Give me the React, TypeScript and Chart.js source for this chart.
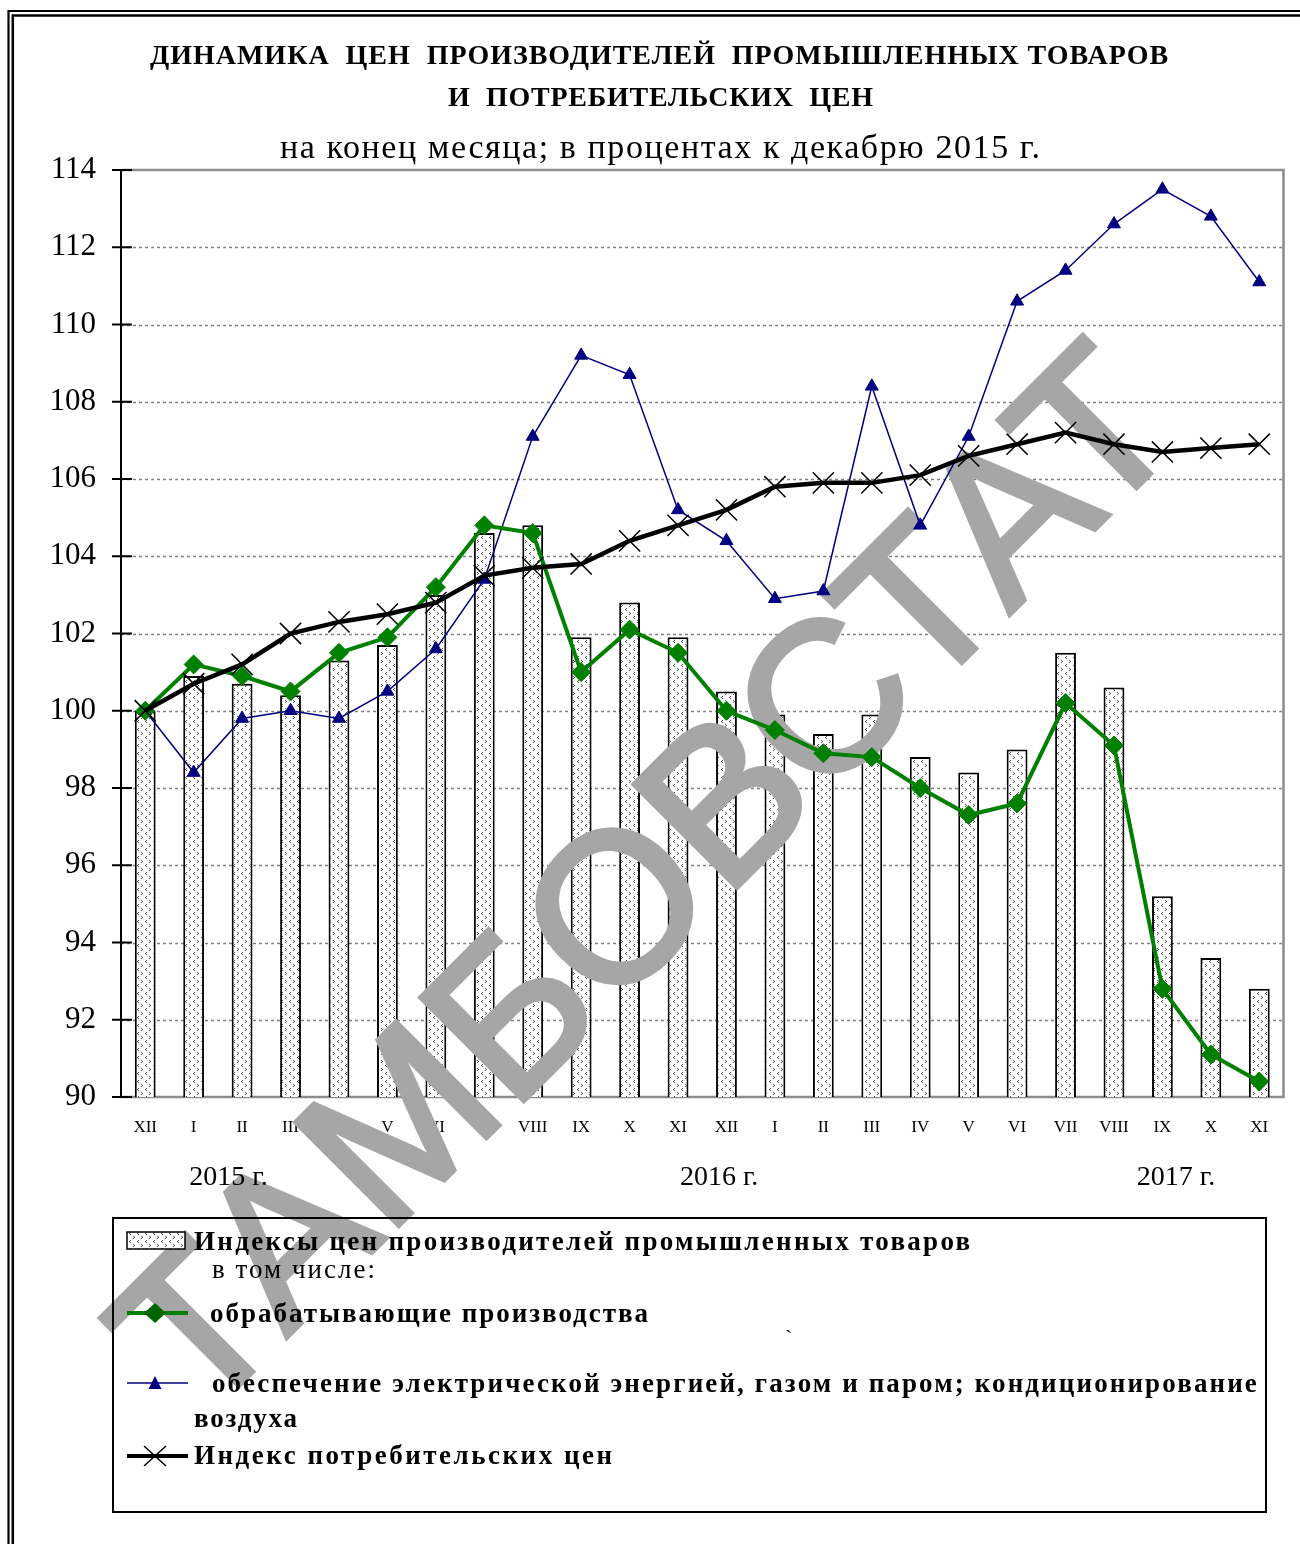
import React, { useEffect, useRef } from 'react';
import { Chart, registerables } from 'chart.js';

Chart.register(...registerables);

// ---------- data ----------
const months = ['XII', 'I', 'II', 'III', 'IV', 'V', 'VI', 'VII', 'VIII', 'IX', 'X', 'XI', 'XII', 'I', 'II', 'III', 'IV', 'V', 'VI', 'VII', 'VIII', 'IX', 'X', 'XI'];
const ppiAll = [100.0, 100.9, 100.7, 100.4, 101.3, 101.7, 103.0, 104.6, 104.8, 101.9, 102.8, 101.9, 100.5, 99.9, 99.4, 99.9, 98.8, 98.4, 99.0, 101.5, 100.6, 95.2, 93.6, 92.8];
const manufacturing = [100.0, 101.2, 100.9, 100.5, 101.5, 101.9, 103.2, 104.8, 104.6, 101.0, 102.1, 101.5, 100.0, 99.5, 98.9, 98.8, 98.0, 97.3, 97.6, 100.2, 99.1, 92.8, 91.1, 90.4];
const energy = [100.0, 98.4, 99.8, 100.0, 99.8, 100.5, 101.6, 103.4, 107.1, 109.2, 108.7, 105.2, 104.4, 102.9, 103.1, 108.4, 104.8, 107.1, 110.6, 111.4, 112.6, 113.5, 112.8, 111.1];
const cpi = [100.0, 100.7, 101.2, 102.0, 102.3, 102.5, 102.8, 103.5, 103.7, 103.8, 104.4, 104.8, 105.2, 105.8, 105.9, 105.9, 106.1, 106.6, 106.9, 107.2, 106.9, 106.7, 106.8, 106.9];
const yearLabels = ['2015 г.', '2016 г.', '2017 г.'];
const titleLines = ['ДИНАМИКА  ЦЕН  ПРОИЗВОДИТЕЛЕЙ  ПРОМЫШЛЕННЫХ ТОВАРОВ', 'И  ПОТРЕБИТЕЛЬСКИХ  ЦЕН'];
const subtitle = 'на конец месяца; в процентах к декабрю 2015 г.';
const legendLabels = [
  'Индексы цен производителей промышленных товаров',
  'в том числе:',
  'обрабатывающие производства',
  'обеспечение электрической энергией, газом и паром; кондиционирование',
  'воздуха',
  'Индекс потребительских цен',
];
const watermark = 'ТАМБОВСТАТ';

// ---------- layout ----------
const W = 1300;
const H = 1544;
const SERIF = '"Liberation Serif", "Times New Roman", serif';
const SANS = '"Liberation Sans", Arial, sans-serif';
const yearLabelPos = [1.72, 11.85, 21.28];
const GREEN = '#008000';
const NAVY = '#000080';

function makePattern(ctx: CanvasRenderingContext2D) {
  const c = document.createElement('canvas');
  c.width = 8;
  c.height = 8;
  const p = c.getContext('2d')!;
  p.fillStyle = '#ffffff';
  p.fillRect(0, 0, 8, 8);
  p.fillStyle = '#555555';
  p.fillRect(2, 0, 1, 1);
  p.fillRect(1, 1, 1, 1);
  p.fillRect(2, 2, 1, 1);
  p.fillRect(5, 4, 1, 1);
  p.fillRect(6, 5, 1, 1);
  p.fillRect(5, 6, 1, 1);
  return ctx.createPattern(c, 'repeat')!;
}

function fitText(ctx: any, text: string, x: number, y: number, width: number, font: string) {
  ctx.save();
  ctx.font = font;
  ctx.fillStyle = '#000';
  ctx.textAlign = 'left';
  ctx.textBaseline = 'alphabetic';
  ctx.letterSpacing = '0px';
  const w0 = ctx.measureText(text).width;
  const ls = text.length > 1 ? (width - w0) / (text.length - 1) : 0;
  ctx.letterSpacing = ls.toFixed(2) + 'px';
  ctx.fillText(text, x, y);
  ctx.restore();
}

export default function App() {
  const ref = useRef<HTMLCanvasElement>(null);

  useEffect(() => {
    document.body.style.margin = '0';
    const canvas = ref.current!;
    const ctx = canvas.getContext('2d')!;
    const pattern = makePattern(ctx);

    const decor = {
      id: 'decor',
      beforeDatasetsDraw(chart: any) {
        const c = chart.ctx;
        const a = chart.chartArea;
        const y = chart.scales.y;
        c.save();
        c.strokeStyle = '#808080';
        c.lineWidth = 1.5;
        c.setLineDash([3, 3]);
        y.ticks.forEach((t: any) => {
          if (t.value <= y.min || t.value >= y.max) return;
          const py = Math.round(y.getPixelForValue(t.value)) + 0.5;
          c.beginPath();
          c.moveTo(a.left, py);
          c.lineTo(a.right, py);
          c.stroke();
        });
        c.setLineDash([]);
        c.strokeStyle = '#8c8c8c';
        c.lineWidth = 2.5;
        c.beginPath();
        c.moveTo(a.left, a.top);
        c.lineTo(a.right, a.top);
        c.lineTo(a.right, a.bottom);
        c.lineTo(a.left, a.bottom);
        c.stroke();
        c.strokeStyle = '#000';
        c.lineWidth = 2;
        c.beginPath();
        c.moveTo(a.left, a.top);
        c.lineTo(a.left, a.bottom);
        c.stroke();
        y.ticks.forEach((t: any) => {
          const py = y.getPixelForValue(t.value);
          c.beginPath();
          c.moveTo(a.left - 9, py);
          c.lineTo(a.left + 11, py);
          c.stroke();
        });
        c.restore();
      },
      afterDatasetDraw(chart: any, args: any) {
        if (args.index !== 0) return;
        const c = chart.ctx;
        c.save();
        c.translate(641, 876);
        c.rotate((-45 * Math.PI) / 180);
        c.font = `212px ${SANS}`;
        c.fillStyle = '#a6a6a6';
        c.strokeStyle = '#a6a6a6';
        c.lineWidth = 5;
        c.lineJoin = 'miter';
        c.textAlign = 'center';
        c.textBaseline = 'alphabetic';
        c.fillText(watermark, 0, 0.358 * 212);
        c.strokeText(watermark, 0, 0.358 * 212);
        c.restore();
      },
      afterDraw(chart: any) {
        const c = chart.ctx;
        const x = chart.scales.x;
        c.save();
        c.font = `28px ${SERIF}`;
        c.fillStyle = '#000';
        c.textAlign = 'center';
        c.textBaseline = 'alphabetic';
        yearLabels.forEach((t, i) => {
          c.fillText(t, x.getPixelForValue(yearLabelPos[i]), 1185);
        });
        c.restore();

        fitText(c, titleLines[0], 150, 64, 1018, `bold 28px ${SERIF}`);
        fitText(c, titleLines[1], 448, 106, 425, `bold 28px ${SERIF}`);
        fitText(c, subtitle, 280, 158, 760, `34px ${SERIF}`);

        c.save();
        c.strokeStyle = '#000';
        c.lineWidth = 2;
        c.strokeRect(113, 1218, 1153, 294);
        c.fillStyle = pattern;
        c.fillRect(127, 1232, 58, 17);
        c.lineWidth = 1.5;
        c.strokeRect(127, 1232, 58, 17);
        c.strokeStyle = GREEN;
        c.lineWidth = 4;
        c.beginPath();
        c.moveTo(127, 1313);
        c.lineTo(188, 1313);
        c.stroke();
        c.fillStyle = '#006400';
        c.beginPath();
        c.moveTo(144, 1313);
        c.lineTo(155, 1303);
        c.lineTo(166, 1313);
        c.lineTo(155, 1323);
        c.closePath();
        c.fill();
        c.strokeStyle = NAVY;
        c.lineWidth = 1.5;
        c.beginPath();
        c.moveTo(127, 1383);
        c.lineTo(188, 1383);
        c.stroke();
        c.fillStyle = NAVY;
        c.beginPath();
        c.moveTo(155, 1376);
        c.lineTo(148.5, 1389);
        c.lineTo(161.5, 1389);
        c.closePath();
        c.fill();
        c.strokeStyle = '#000';
        c.lineWidth = 4;
        c.beginPath();
        c.moveTo(127, 1456);
        c.lineTo(188, 1456);
        c.stroke();
        c.lineWidth = 1.5;
        c.beginPath();
        c.moveTo(144, 1446);
        c.lineTo(166, 1466);
        c.moveTo(144, 1466);
        c.lineTo(166, 1446);
        c.stroke();
        c.restore();

        fitText(c, legendLabels[0], 194, 1250, 776, `bold 27px ${SERIF}`);
        fitText(c, legendLabels[1], 212, 1278, 163, `27px ${SERIF}`);
        fitText(c, legendLabels[2], 210, 1322, 438, `bold 27px ${SERIF}`);
        fitText(c, '`', 785, 1345, 8, `22px ${SERIF}`);
        fitText(c, legendLabels[3], 212, 1392, 1045, `bold 27px ${SERIF}`);
        fitText(c, legendLabels[4], 194, 1427, 103, `bold 27px ${SERIF}`);
        fitText(c, legendLabels[5], 194, 1464, 418, `bold 27px ${SERIF}`);

        c.save();
        c.strokeStyle = '#000';
        c.lineWidth = 2.2;
        c.beginPath();
        c.moveTo(8.5, H);
        c.lineTo(8.5, 11);
        c.lineTo(W, 11);
        c.stroke();
        c.lineWidth = 2.5;
        c.beginPath();
        c.moveTo(12.8, H);
        c.lineTo(12.8, 15.5);
        c.lineTo(W, 15.5);
        c.stroke();
        c.restore();
      },
    };

    const chart = new Chart(ctx, {
      type: 'bar',
      data: {
        labels: months,
        datasets: [
          {
            type: 'bar',
            label: legendLabels[0],
            data: ppiAll,
            backgroundColor: pattern,
            borderColor: '#000',
            borderWidth: 2,
            borderSkipped: 'start',
            base: 90,
            barPercentage: 0.43,
            categoryPercentage: 1,
            order: 4,
          } as any,
          {
            type: 'line',
            label: legendLabels[3],
            data: energy,
            borderColor: NAVY,
            backgroundColor: NAVY,
            borderWidth: 1.5,
            pointStyle: 'triangle',
            pointRadius: 7.5,
            pointBorderWidth: 1,
            pointBackgroundColor: NAVY,
            pointBorderColor: NAVY,
            tension: 0,
            order: 3,
          },
          {
            type: 'line',
            label: legendLabels[2],
            data: manufacturing,
            borderColor: GREEN,
            backgroundColor: GREEN,
            borderWidth: 4,
            pointStyle: 'rectRot',
            pointRadius: 9.5,
            pointBorderWidth: 1,
            pointBackgroundColor: GREEN,
            pointBorderColor: GREEN,
            tension: 0,
            order: 2,
          },
          {
            type: 'line',
            label: legendLabels[5],
            data: cpi,
            borderColor: '#000',
            backgroundColor: '#000',
            borderWidth: 4.5,
            pointStyle: 'crossRot',
            pointRadius: 15,
            pointBorderWidth: 1.5,
            pointBorderColor: '#000',
            tension: 0,
            order: 1,
          },
        ],
      },
      options: {
        responsive: false,
        animation: false,
        devicePixelRatio: 1,
        events: [],
        layout: { padding: { left: 0, right: 13, top: 170, bottom: 0 } },
        plugins: {
          legend: { display: false },
          tooltip: { enabled: false },
          title: { display: false },
        },
        scales: {
          x: {
            type: 'category',
            grid: { display: false },
            border: { display: false },
            ticks: {
              font: { family: SERIF, size: 17 },
              color: '#000',
              padding: 12,
              autoSkip: false,
              maxRotation: 0,
            },
            afterFit: (s: any) => {
              s.height = H - 1097;
            },
          },
          y: {
            type: 'linear',
            min: 90,
            max: 114,
            grid: { display: false },
            border: { display: false },
            ticks: {
              stepSize: 2,
              font: { family: SERIF, size: 31 },
              color: '#000',
              padding: 17,
            },
            afterFit: (s: any) => {
              s.width = 121;
            },
          },
        },
      },
      plugins: [decor],
    } as any);

    return () => chart.destroy();
  }, []);

  return <canvas ref={ref} width={W} height={H} style={{ display: 'block' }} />;
}
